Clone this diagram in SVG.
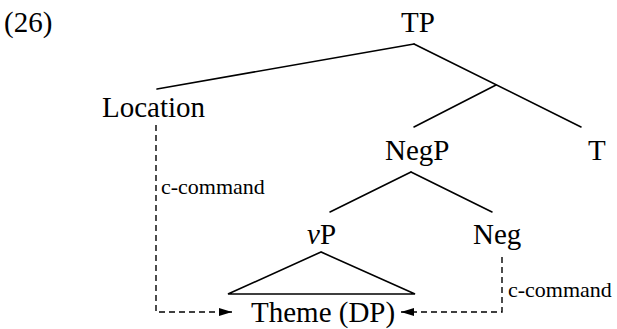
<svg xmlns="http://www.w3.org/2000/svg" width="617" height="329" viewBox="0 0 617 329">
  <style>
    .lbl { font-family: "Liberation Serif", "Times New Roman", serif; font-size: 29px; fill: #000; }
    .rel { font-family: "Liberation Serif", "Times New Roman", serif; font-size: 22px; fill: #000; }
    .edge { stroke: #000; stroke-width: 1.6; fill: none; stroke-linecap: round; }
    .cc { stroke: #000; stroke-width: 1.4; fill: none; stroke-dasharray: 6 4; }
  </style>
  <defs>
    <marker id="head" viewBox="0 0 13 8" refX="13" refY="4" markerWidth="13" markerHeight="8" markerUnits="userSpaceOnUse" orient="auto">
      <path d="M0,0 L13,4 L0,8 Z" fill="#000"/>
    </marker>
  </defs>
  <rect width="617" height="329" fill="#fff"/>

  <text class="lbl" x="4" y="32">(26)</text>

  <!-- tree branches, the vP triangle and the c-command arrows -->
  <g id="connectors">
    <line class="edge" x1="414" y1="44" x2="157" y2="89"/>
    <line class="edge" x1="414" y1="44" x2="581" y2="127"/>
    <line class="edge" x1="496" y1="85" x2="414" y2="127"/>
    <line class="edge" x1="411" y1="172" x2="330" y2="212"/>
    <line class="edge" x1="411" y1="172" x2="492" y2="212"/>
    <path class="edge" d="M321,252 L228,294 L415,294 Z" stroke-linejoin="miter"/>
    <path class="cc" d="M156,125 L156,312 L232,312" marker-end="url(#head)"/>
    <path class="cc" d="M502,257 L502,312 L401,312" marker-end="url(#head)"/>
    <text class="rel" x="161" y="194">c-command</text>
    <text class="rel" x="508" y="297">c-command</text>
  </g>

  <g id="tp"><text class="lbl" x="418" y="32" text-anchor="middle">TP</text></g>
  <g id="location"><text class="lbl" x="102" y="117">Location</text></g>
  <g id="negp"><text class="lbl" x="385" y="160">NegP</text></g>
  <g id="t"><text class="lbl" x="588" y="160">T</text></g>
  <g id="vp"><text class="lbl" x="307" y="244"><tspan font-style="italic">v</tspan>P</text></g>
  <g id="neg"><text class="lbl" x="473" y="244">Neg</text></g>
  <g id="theme"><text class="lbl" x="251" y="322">Theme (DP)</text></g>
</svg>
